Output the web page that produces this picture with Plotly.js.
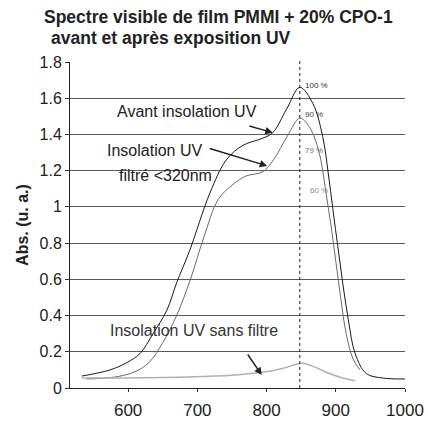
<!DOCTYPE html>
<html><head><meta charset="utf-8">
<script src="https://cdn.plot.ly/plotly-3.0.1.min.js"></script>
<style>html,body{margin:0;padding:0;background:#fff}#c{width:428px;height:421px}</style>
</head><body><div id="c"></div>
<script>
const avantX = [533,574,598,617,636,656,670,689,718,742,766,795,809,829,848,867,881,889,896,903,910,918,928,944,968,1000];
const avantY = [0.066,0.10,0.14,0.19,0.30,0.43,0.58,0.76,1.075,1.26,1.34,1.38,1.41,1.54,1.66,1.57,1.39,1.19,0.98,0.78,0.58,0.38,0.19,0.08,0.055,0.05];
const filtreX = [540,580,610,630,650,670,690,710,730,750,770,795,810,830,848,862,876,885,893,900,907,915,925,935];
const filtreY = [0.05,0.06,0.09,0.14,0.25,0.40,0.60,0.84,1.04,1.12,1.17,1.195,1.26,1.39,1.49,1.44,1.30,1.10,0.90,0.70,0.50,0.30,0.16,0.10];
const sansX = [533,600,675,750,790,820,848,855,870,891,910,928];
const sansY = [0.055,0.055,0.06,0.07,0.085,0.105,0.135,0.135,0.115,0.08,0.055,0.04];
const peakX = 848;
const pctLabels = ["100 %","90 %","79 %","60 %"];
const pctY = [1.67,1.51,1.31,1.09];
const yTicks = [0,0.2,0.4,0.6,0.8,1,1.2,1.4,1.6,1.8];
const yTickText = ["0","0.2","0.4","0.6","0.8","1","1.2","1.4","1.6","1.8"];
const xTicks = [600,700,800,900,1000];

const font = "Liberation Sans, Arial, sans-serif";
const traces = [
  {x: avantX, y: avantY, mode:'lines', line:{color:'#1a1a1a', width:1, shape:'spline'}},
  {x: filtreX, y: filtreY, mode:'lines', line:{color:'#6a6a6a', width:1, shape:'spline'}},
  {x: sansX, y: sansY, mode:'lines', line:{color:'#b0b0b0', width:1.5, shape:'spline'}}
];
const pctColors = ['#333','#444','#777','#888'];
const ann = [
  {xref:'paper', yref:'paper', x:-0.085, y:1.138, xanchor:'left', yanchor:'middle', text:'<b>Spectre visible de film PMMI + 20% CPO-1</b>', showarrow:false, font:{size:17.5, color:'#222', family:font}},
  {xref:'paper', yref:'paper', x:-0.062, y:1.075, xanchor:'left', yanchor:'middle', text:'<b>avant et après exposition UV</b>', showarrow:false, font:{size:17.5, color:'#222', family:font}},
  {x:685, y:1.524, xref:'x', yref:'y', text:'Avant insolation UV', showarrow:false, font:{size:16,color:'#222',family:font}},
  {x:809, y:1.41, ax:-25, ay:-7, text:'', showarrow:true, arrowhead:2, arrowsize:1, arrowwidth:1.5, arrowcolor:'#222'},
  {x:638, y:1.314, xref:'x', yref:'y', text:'Insolation UV', showarrow:false, font:{size:16,color:'#222',family:font}},
  {x:654, y:1.176, xref:'x', yref:'y', text:'filtré <320nm', showarrow:false, font:{size:16,color:'#222',family:font}},
  {x:801, y:1.226, ax:-59, ay:-18, text:'', showarrow:true, arrowhead:2, arrowsize:1, arrowwidth:1.5, arrowcolor:'#222'},
  {x:695, y:0.32, xref:'x', yref:'y', text:'Insolation UV sans filtre', showarrow:false, font:{size:16,color:'#333',family:font}},
  {x:793, y:0.072, ax:-15, ay:-22, text:'', showarrow:true, arrowhead:2, arrowsize:1, arrowwidth:1.5, arrowcolor:'#222'}
];
pctLabels.forEach((t,i)=>{
  ann.push({x:peakX, y:pctY[i], xref:'x', yref:'y', text:t, showarrow:false, xanchor:'left', xshift: i===3?8:3, font:{size:8, color:pctColors[i], family:font}});
});
const layout = {
  width:428, height:421,
  margin:{l:70, r:23, t:62, b:33},
  paper_bgcolor:'#fff', plot_bgcolor:'#fff',
  showlegend:false,
  xaxis:{range:[516,1000], tickvals:xTicks, ticks:'outside', ticklen:3, tickcolor:'#333', showgrid:false, zeroline:false, showline:true, linecolor:'#222', linewidth:1, ticklabelstandoff:4, tickfont:{size:17, color:'#222', family:font}},
  yaxis:{range:[0,1.8], tickvals:yTicks, ticktext:yTickText, ticks:'outside', ticklen:4, tickcolor:'#333', showgrid:true, gridcolor:'#5a5a5a', gridwidth:1, zeroline:false, showline:true, linecolor:'#222', linewidth:1, tickfont:{size:16, color:'#222', family:font},
    title:{text:'<b>Abs. (u. a.)</b>', font:{size:16, color:'#222', family:font}, standoff:6}},
  shapes:[{type:'line', xref:'x', yref:'paper', x0:peakX, x1:peakX, y0:0, y1:1.012, line:{color:'#222', width:1, dash:'dot'}}],
  annotations: ann
};
Plotly.newPlot('c', traces, layout, {displayModeBar:false, staticPlot:true});
</script></body></html>
